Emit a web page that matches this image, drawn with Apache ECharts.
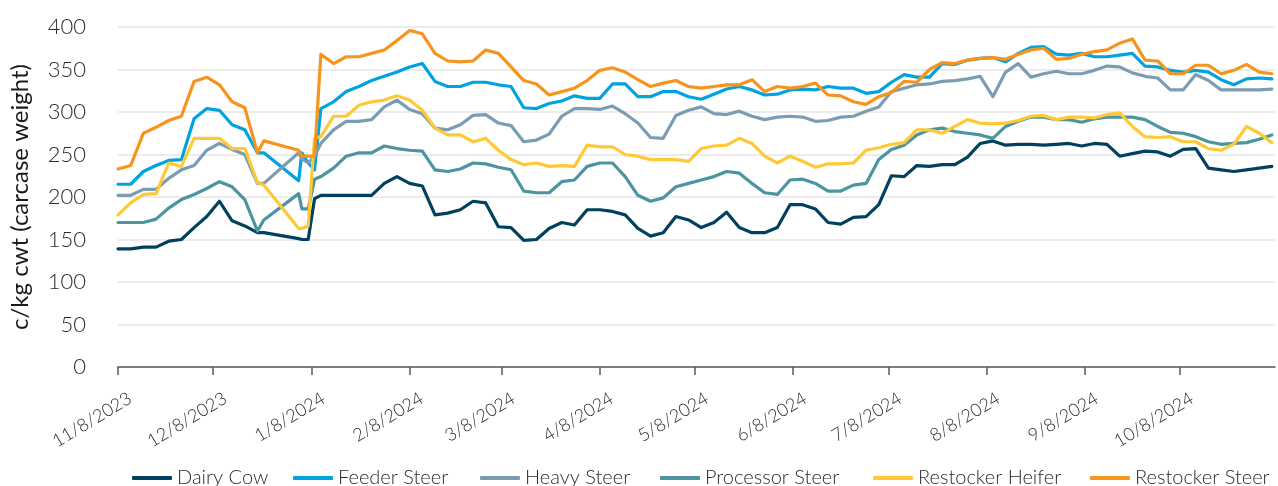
<!DOCTYPE html>
<html>
<head>
<meta charset="utf-8">
<title>Cattle indicator prices</title>
<script src="https://cdn.jsdelivr.net/npm/echarts@6/dist/echarts.min.js"></script>
<style>
  html, body { margin: 0; padding: 0; background: #ffffff; }
  #chart { width: 1278px; height: 486px; }
</style>
</head>
<body>
<div id="chart"></div>
<script>
// Observation dates (no quotes over the Christmas break)
const dates = [
  '2023-11-08','2023-11-12','2023-11-16','2023-11-20','2023-11-24','2023-11-28',
  '2023-12-02','2023-12-06','2023-12-10','2023-12-14','2023-12-18','2023-12-22',
  '2023-12-24','2024-01-04','2024-01-05','2024-01-07','2024-01-09','2024-01-11',
  '2024-01-15','2024-01-19','2024-01-23','2024-01-27','2024-01-31','2024-02-04',
  '2024-02-08','2024-02-12','2024-02-16','2024-02-20','2024-02-24','2024-02-28',
  '2024-03-03','2024-03-07','2024-03-11','2024-03-15','2024-03-19','2024-03-23',
  '2024-03-27','2024-03-31','2024-04-04','2024-04-08','2024-04-12','2024-04-16',
  '2024-04-20','2024-04-24','2024-04-28','2024-05-02','2024-05-06','2024-05-10',
  '2024-05-14','2024-05-18','2024-05-22','2024-05-26','2024-05-30','2024-06-03',
  '2024-06-07','2024-06-11','2024-06-15','2024-06-19','2024-06-23','2024-06-27',
  '2024-07-01','2024-07-05','2024-07-09','2024-07-13','2024-07-17','2024-07-21',
  '2024-07-25','2024-07-29','2024-08-02','2024-08-06','2024-08-10','2024-08-14',
  '2024-08-18','2024-08-22','2024-08-26','2024-08-30','2024-09-03','2024-09-07',
  '2024-09-11','2024-09-15','2024-09-19','2024-09-23','2024-09-27','2024-10-01',
  '2024-10-05','2024-10-09','2024-10-13','2024-10-17','2024-10-21','2024-10-25',
  '2024-10-29','2024-11-02','2024-11-06'
];

// Prices, c/kg cwt
const dairyCow = [
  139,139,141,141,148,150, 164,177,195,172,166,158, 158,151,150,150,198,202,
  202,202,202,202,216,224, 216,213,179,181,185,195, 193,165,164,149,150,163,
  170,167,185,185,183,179, 163,154,158,177,173,164, 170,182,164,158,158,164,
  191,191,186,170,168,176, 177,191,225,224,237,236, 238,238,247,263,266,261,
  262,262,261,262,263,260, 263,262,248,251,254,253, 248,256,257,234,232,230,
  232,234,236
];
const feederSteer = [
  215,215,230,237,243,244, 292,304,302,285,279,252, 252,219,252,240,232,304,
  312,324,330,337,342,347, 353,357,336,330,330,335, 335,332,330,305,304,310,
  313,319,316,316,333,333, 318,318,324,324,318,315, 321,327,330,326,320,321,
  326,327,326,330,328,328, 322,324,335,344,341,341, 357,356,361,363,364,359,
  369,376,377,368,367,369, 365,365,367,369,354,353, 349,347,349,347,338,332,
  339,340,339
];
const heavySteer = [
  202,202,209,209,222,232, 237,255,263,256,250,216, 216,252,245,240,248,263,
  279,289,289,291,306,314, 303,298,281,279,285,296, 297,287,284,265,267,274,
  295,304,304,303,307,298, 287,270,269,296,302,306, 298,297,301,295,291,294,
  295,294,289,290,294,295, 301,306,324,328,332,333, 336,337,339,342,318,347,
  357,341,345,348,345,345, 349,354,353,346,342,340, 326,326,344,337,326,326,
  326,326,327
];
const processorSteer = [
  170,170,170,174,187,197, 203,210,218,212,197,160, 173,204,186,186,221,224,
  234,248,252,252,260,257, 255,254,232,230,233,240, 239,235,232,207,205,205,
  218,220,236,240,240,224, 202,195,199,212,216,220, 224,230,228,216,205,203,
  220,221,216,207,207,214, 216,244,256,261,273,279, 281,277,275,273,269,283,
  289,294,294,291,291,288, 292,294,294,294,291,283, 276,275,271,265,262,263,
  264,268,273
];
const restockerHeifer = [
  179,193,203,204,240,236, 269,269,269,257,257,217, 214,163,163,166,269,271,
  295,295,308,312,314,319, 314,302,281,273,273,265, 269,255,244,238,240,236,
  237,236,261,259,259,250, 248,244,244,244,242,257, 260,261,269,263,248,240,
  248,242,235,239,239,240, 255,258,262,264,279,279, 275,283,291,287,286,287,
  290,295,296,291,294,294, 293,297,299,283,271,270, 271,265,265,257,255,262,
  283,275,264
];
const restockerSteer = [
  233,237,275,282,290,295, 336,341,332,312,305,252, 266,255,248,248,248,368,
  357,365,365,369,373,384, 396,392,369,360,359,360, 373,369,353,337,333,320,
  324,328,337,349,352,347, 338,330,334,337,330,328, 330,332,332,338,324,330,
  328,330,334,320,319,312, 309,318,323,336,335,350, 358,357,361,363,364,362,
  368,373,375,362,363,368, 371,373,381,386,361,360, 345,345,355,355,345,349,
  356,347,345
];

// Month ticks along the date axis
const tickDates = [
  '2023-11-08','2023-12-08','2024-01-08','2024-02-08','2024-03-08','2024-04-08',
  '2024-05-08','2024-06-08','2024-07-08','2024-08-08','2024-09-08','2024-10-08'
];
const tickLabels = [
  '11/8/2023','12/8/2023','1/8/2024','2/8/2024','3/8/2024','4/8/2024',
  '5/8/2024','6/8/2024','7/8/2024','8/8/2024','9/8/2024','10/8/2024'
];
const startDate = '2023-11-08';
const endDate = '2024-11-07';

const seriesNames = ['Dairy Cow','Feeder Steer','Heavy Steer','Processor Steer','Restocker Heifer','Restocker Steer'];
const seriesValues = [dairyCow, feederSteer, heavySteer, processorSteer, restockerHeifer, restockerSteer];
const seriesColors = ['#00415f','#00a3e0','#7b9db3','#4a959f','#ffc936','#f7941d'];

// Whole days since the first date, used as the x coordinate
function dayIndex(s) {
  const p = s.split('-').map(Number);
  const q = startDate.split('-').map(Number);
  return Math.round((Date.UTC(p[0], p[1] - 1, p[2]) - Date.UTC(q[0], q[1] - 1, q[2])) / 86400000);
}

const tickDays = tickDates.map(dayIndex);

const FONT = "Lato, 'Open Sans', sans-serif";
const TEXT = '#2b2b2b';

// One legend block per entry so each sits at its own slot along the bottom
const legendSlots = [127, 288, 475, 655, 868, 1085];
const legends = seriesNames.map((name, i) => ({
  data: [name],
  left: legendSlots[i],
  top: 463,
  icon: 'roundRect',
  itemWidth: 40,
  itemHeight: 4,
  textStyle: { fontFamily: FONT, fontSize: 20, fontWeight: 300, color: TEXT }
}));

const chart = echarts.init(document.getElementById('chart'), null, { renderer: 'canvas' });

chart.setOption({
  animation: false,
  backgroundColor: '#ffffff',
  grid: { left: 118, right: 3, top: 27, bottom: 119, containLabel: false },
  legend: legends,
  xAxis: {
    type: 'value',
    min: 0,
    max: dayIndex(endDate),
    axisLine: { show: true, lineStyle: { color: '#595959', width: 1.5 } },
    axisTick: { show: true, customValues: tickDays, length: 8, lineStyle: { color: '#595959', width: 1.5 } },
    axisLabel: { show: false },
    splitLine: { show: false }
  },
  yAxis: {
    type: 'value',
    min: 0,
    max: 400,
    interval: 50,
    name: 'c/kg cwt (carcase weight)',
    nameLocation: 'middle',
    nameRotate: 90,
    nameGap: 86,
    nameTextStyle: { fontFamily: FONT, fontSize: 24, fontWeight: 400, color: '#1a1a1a' },
    axisLine: { show: false },
    axisTick: { show: false },
    axisLabel: { margin: 32, fontFamily: FONT, fontSize: 22, fontWeight: 300, color: TEXT },
    splitLine: { show: true, lineStyle: { color: '#e6e6e6', width: 1.5 } }
  },
  series: seriesNames.map((name, k) => ({
    name: name,
    type: 'line',
    data: dates.map((d, i) => [dayIndex(d), seriesValues[k][i]]),
    showSymbol: false,
    symbol: 'none',
    color: seriesColors[k],
    lineStyle: { width: 3.2, color: seriesColors[k], join: 'round', cap: 'round' }
  }))
});

// Month labels: slanted text whose right end sits just below and right of each tick
const OFFSET_X = 12, OFFSET_Y = 30, ANGLE = 31;
function drawTickLabels() {
  const elements = tickDays.map((d, i) => {
    const p = chart.convertToPixel({ gridIndex: 0 }, [d, 0]);
    return {
      type: 'text',
      x: p[0] + OFFSET_X,
      y: p[1] + OFFSET_Y,
      rotation: ANGLE * Math.PI / 180,
      silent: true,
      style: {
        text: tickLabels[i],
        align: 'right',
        verticalAlign: 'middle',
        fontFamily: FONT,
        fontSize: 18,
        fontWeight: 300,
        fill: TEXT
      }
    };
  });
  chart.setOption({ graphic: { elements: elements } });
}
drawTickLabels();
</script>
</body>
</html>
